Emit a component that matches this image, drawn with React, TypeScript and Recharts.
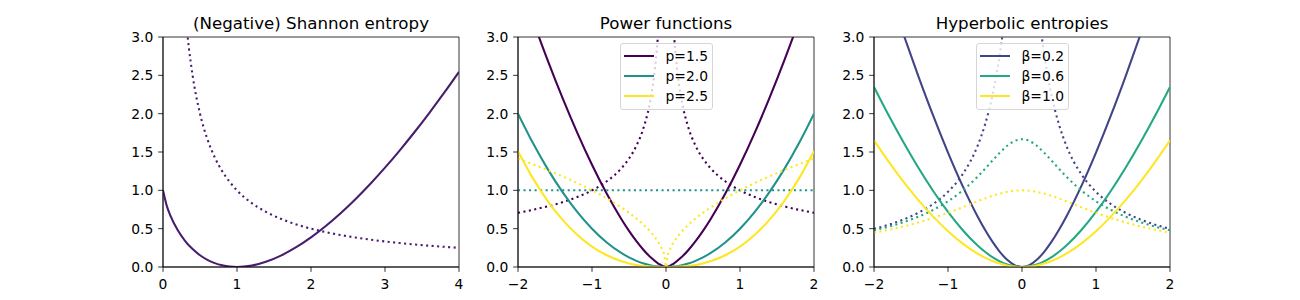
import React from 'react';
import { LineChart, Line, XAxis, YAxis, ReferenceArea, Legend } from 'recharts';

const FONT = '"DejaVu Sans", sans-serif';

// ---------- Panel 1: (Negative) Shannon entropy ----------
const shannonX = [0, 0.05, 0.1, 0.2, 0.3, 0.4, 0.5, 0.6, 0.7, 0.8, 0.9, 1.0, 1.2, 1.4, 1.6, 1.8, 2.0, 2.2, 2.4, 2.6, 2.8, 3.0, 3.2, 3.4, 3.6, 3.8, 4.0];
const shannonY = [1, 0.8002, 0.6697, 0.4781, 0.3388, 0.2335, 0.1534, 0.0935, 0.0503, 0.0215, 0.0052, 0, 0.0188, 0.0711, 0.152, 0.258, 0.3863, 0.5346, 0.7011, 0.8843, 1.0829, 1.2958, 1.5221, 1.7609, 2.0113, 2.2731, 2.5452];
const shannonD2X = [0.25, 0.3, 0.35, 0.4, 0.5, 0.6, 0.7, 0.8, 0.9, 1.0, 1.2, 1.4, 1.6, 1.8, 2.0, 2.2, 2.4, 2.6, 2.8, 3.0, 3.2, 3.4, 3.6, 3.8, 4.0];
const shannonD2Y = [4, 3.3333, 2.8571, 2.5, 2, 1.6667, 1.4286, 1.25, 1.1111, 1, 0.8333, 0.7143, 0.625, 0.5556, 0.5, 0.4545, 0.4167, 0.3846, 0.3571, 0.3333, 0.3125, 0.2941, 0.2778, 0.2632, 0.25];

// ---------- Shared x grid for panels 2 and 3 ----------
const gridX = [-2, -1.8, -1.6, -1.4, -1.2, -1, -0.8, -0.6, -0.5, -0.4, -0.3, -0.2, -0.1, 0, 0.1, 0.2, 0.3, 0.4, 0.5, 0.6, 0.8, 1, 1.2, 1.4, 1.6, 1.8, 2];

// ---------- Panel 2: Power functions ----------
const p15Y = [3.7712, 3.2199, 2.6985, 2.2087, 1.7527, 1.3333, 0.9541, 0.6197, 0.4714, 0.3373, 0.2191, 0.1193, 0.0422, 0, 0.0422, 0.1193, 0.2191, 0.3373, 0.4714, 0.6197, 0.9541, 1.3333, 1.7527, 2.2087, 2.6985, 3.2199, 3.7712];
const p15D2X = [-2, -1.8, -1.6, -1.4, -1.2, -1, -0.8, -0.6, -0.5, -0.4, -0.3, -0.2, -0.15, -0.1, -0.08, 0, 0.08, 0.1, 0.15, 0.2, 0.3, 0.4, 0.5, 0.6, 0.8, 1, 1.2, 1.4, 1.6, 1.8, 2];
const p15D2Y = [0.7071, 0.7454, 0.7906, 0.8452, 0.9129, 1, 1.118, 1.291, 1.4142, 1.5811, 1.8257, 2.2361, 2.582, 3.1623, 3.5355, null, 3.5355, 3.1623, 2.582, 2.2361, 1.8257, 1.5811, 1.4142, 1.291, 1.118, 1, 0.9129, 0.8452, 0.7906, 0.7454, 0.7071];
const p20Y = [2, 1.62, 1.28, 0.98, 0.72, 0.5, 0.32, 0.18, 0.125, 0.08, 0.045, 0.02, 0.005, 0, 0.005, 0.02, 0.045, 0.08, 0.125, 0.18, 0.32, 0.5, 0.72, 0.98, 1.28, 1.62, 2];
const p20D2Y = [1, 1, 1, 1, 1, 1, 1, 1, 1, 1, 1, 1, 1, 1, 1, 1, 1, 1, 1, 1, 1, 1, 1, 1, 1, 1, 1];
const p25Y = [1.5085, 1.1592, 0.8635, 0.6184, 0.4207, 0.2667, 0.1527, 0.0744, 0.0471, 0.027, 0.0131, 0.0048, 0.0008, 0, 0.0008, 0.0048, 0.0131, 0.027, 0.0471, 0.0744, 0.1527, 0.2667, 0.4207, 0.6184, 0.8635, 1.1592, 1.5085];
const p25D2X = [-2, -1.8, -1.6, -1.4, -1.2, -1, -0.8, -0.6, -0.5, -0.4, -0.3, -0.2, -0.1, -0.05, -0.02, 0, 0.02, 0.05, 0.1, 0.2, 0.3, 0.4, 0.5, 0.6, 0.8, 1, 1.2, 1.4, 1.6, 1.8, 2];
const p25D2Y = [1.4142, 1.3416, 1.2649, 1.1832, 1.0954, 1, 0.8944, 0.7746, 0.7071, 0.6325, 0.5477, 0.4472, 0.3162, 0.2236, 0.1414, 0, 0.1414, 0.2236, 0.3162, 0.4472, 0.5477, 0.6325, 0.7071, 0.7746, 0.8944, 1, 1.0954, 1.1832, 1.2649, 1.3416, 1.4142];

// ---------- Panel 3: Hyperbolic entropies ----------
const b02Y = [4.1864, 3.597, 3.03, 2.4875, 1.9736, 1.4926, 1.0511, 0.6586, 0.4851, 0.3302, 0.1979, 0.0934, 0.0245, 0, 0.0245, 0.0934, 0.1979, 0.3302, 0.4851, 0.6586, 1.0511, 1.4926, 1.9736, 2.4875, 3.03, 3.597, 4.1864];
const b02D2Y = [0.4975, 0.5522, 0.6202, 0.7071, 0.822, 0.9806, 1.2127, 1.5811, 1.857, 2.2361, 2.7735, 3.5355, 4.4721, 5, 4.4721, 3.5355, 2.7735, 2.2361, 1.857, 1.5811, 1.2127, 0.9806, 0.822, 0.7071, 0.6202, 0.5522, 0.4975];
const b06Y = [2.3497, 1.9758, 1.6231, 1.2937, 0.9907, 0.7176, 0.4789, 0.2803, 0.1982, 0.129, 0.0735, 0.033, 0.0083, 0, 0.0083, 0.033, 0.0735, 0.129, 0.1982, 0.2803, 0.4789, 0.7176, 0.9907, 1.2937, 1.6231, 1.9758, 2.3497];
const b06D2Y = [0.4789, 0.527, 0.5852, 0.6565, 0.7454, 0.8575, 1, 1.1785, 1.2804, 1.3868, 1.4907, 1.5811, 1.644, 1.6667, 1.644, 1.5811, 1.4907, 1.3868, 1.2804, 1.1785, 1, 0.8575, 0.7454, 0.6565, 0.5852, 0.527, 0.4789];
const b10Y = [1.6512, 1.3717, 1.1116, 0.8727, 0.6571, 0.4672, 0.3055, 0.1751, 0.1226, 0.079, 0.0447, 0.0199, 0.005, 0, 0.005, 0.0199, 0.0447, 0.079, 0.1226, 0.1751, 0.3055, 0.4672, 0.6571, 0.8727, 1.1116, 1.3717, 1.6512];
const b10D2Y = [0.4472, 0.4856, 0.53, 0.5812, 0.6402, 0.7071, 0.7809, 0.8575, 0.8944, 0.9285, 0.9578, 0.9806, 0.995, 1, 0.995, 0.9806, 0.9578, 0.9285, 0.8944, 0.8575, 0.7809, 0.7071, 0.6402, 0.5812, 0.53, 0.4856, 0.4472];

// ---------- Axis ticks / labels ----------
const yTicks = [0, 0.5, 1, 1.5, 2, 2.5, 3];
const xTicksShannon = [0, 1, 2, 3, 4];
const xTicksSym = [-2, -1, 0, 1, 2];
const titles = ['(Negative) Shannon entropy', 'Power functions', 'Hyperbolic entropies'];
const powerLabels = ['p=1.5', 'p=2.0', 'p=2.5'];
const betaLabels = ['β=0.2', 'β=0.6', 'β=1.0'];

const C_SHANNON = '#481c6e';
const POWER_COLORS = ['#440154', '#21918c', '#fde725'];
const BETA_COLORS = ['#414487', '#22a884', '#fde725'];

const zip = (xs: number[], ys: (number | null)[]) => xs.map((x, i) => ({ x, y: ys[i] }));

type S = { data: { x: number; y: number | null }[]; color: string; dotted: boolean; name?: string };

const PLOT_W = 296;
const YW = 50;
const PLOT_LEFTS = [163, 518, 874];
const DOT = '2.08 3.44';

const fmtY = (v: number) => v.toFixed(1);
const fmtX = (v: number) => (v < 0 ? '\u2212' + Math.abs(v) : String(v));

const tickStyle = { fill: '#000', fontSize: 13.89, fontFamily: FONT };

const LegendBox = (props: any) => {
  const items = (props.payload || []).filter((p: any) => p.type !== 'none');
  return (
    <div
      style={{
        position: 'relative',
        width: 93,
        height: 67,
        boxSizing: 'border-box',
        border: '1px solid #d6d6d6',
        borderRadius: 3,
        background: 'rgba(255,255,255,0.8)',
        fontFamily: FONT,
        fontSize: 13.89,
        color: '#000',
      }}
    >
      {items.map((it: any, i: number) => (
        <div key={i} style={{ position: 'absolute', left: 0, top: 1.7 + 20.2 * i, height: 20, width: 93 }}>
          <div style={{ position: 'absolute', left: 3, top: 9, width: 30, height: 2.1, background: it.color }} />
          <div style={{ position: 'absolute', left: 44.5, top: 0, lineHeight: '20px', whiteSpace: 'nowrap' }}>{it.value}</div>
        </div>
      ))}
    </div>
  );
};

function Panel({ idx, domain, ticks, series, legend }: { idx: number; domain: [number, number]; ticks: number[]; series: S[]; legend: boolean }) {
  return (
    <div style={{ position: 'absolute', left: PLOT_LEFTS[idx] - YW, top: 0 }}>
      <LineChart width={YW + PLOT_W + 5} height={300} margin={{ top: 37, right: 5, bottom: 3, left: 0 }}>
        <XAxis
          type="number"
          dataKey="x"
          domain={domain}
          ticks={ticks}
          interval={0}
          allowDataOverflow
          tickFormatter={fmtX}
          tick={tickStyle}
          tickLine={{ stroke: '#000', strokeWidth: 0.8 }}
          axisLine={{ stroke: '#000', strokeWidth: 0.8 }}
          tickSize={4.86}
          tickMargin={7.5}
          height={30}
        />
        <YAxis
          type="number"
          domain={[0, 3]}
          ticks={yTicks}
          interval={0}
          allowDataOverflow
          tickFormatter={fmtY}
          tick={tickStyle}
          tickLine={{ stroke: '#000', strokeWidth: 0.8 }}
          axisLine={{ stroke: '#000', strokeWidth: 0.8 }}
          tickSize={4.86}
          tickMargin={4.86}
          width={YW}
        />
        {series.map((s, i) => (
          <Line
            key={i}
            data={s.data}
            dataKey="y"
            name={s.name}
            type="monotone"
            stroke={s.color}
            strokeWidth={2.08}
            strokeDasharray={s.dotted ? DOT : undefined}
            dot={false}
            activeDot={false}
            connectNulls={false}
            legendType={s.dotted || !s.name ? 'none' : 'line'}
            isAnimationActive={false}
          />
        ))}
        <ReferenceArea x1={domain[0]} x2={domain[1]} y1={0} y2={3} fill="none" fillOpacity={0} stroke="#000" strokeWidth={0.8} />
        {legend && (
          <Legend
            layout="vertical"
            align="center"
            verticalAlign="middle"
            wrapperStyle={{ left: 152, top: 43, width: 93, height: 67 }}
            content={LegendBox}
          />
        )}
      </LineChart>
    </div>
  );
}

export default function App() {
  const shannon: S[] = [
    { data: zip(shannonX, shannonY), color: C_SHANNON, dotted: false },
    { data: zip(shannonD2X, shannonD2Y), color: C_SHANNON, dotted: true },
  ];
  const power: S[] = [
    { data: zip(gridX, p15Y), color: POWER_COLORS[0], dotted: false, name: powerLabels[0] },
    { data: zip(p15D2X, p15D2Y), color: POWER_COLORS[0], dotted: true },
    { data: zip(gridX, p20Y), color: POWER_COLORS[1], dotted: false, name: powerLabels[1] },
    { data: zip(gridX, p20D2Y), color: POWER_COLORS[1], dotted: true },
    { data: zip(gridX, p25Y), color: POWER_COLORS[2], dotted: false, name: powerLabels[2] },
    { data: zip(p25D2X, p25D2Y), color: POWER_COLORS[2], dotted: true },
  ];
  const hyper: S[] = [
    { data: zip(gridX, b02Y), color: BETA_COLORS[0], dotted: false, name: betaLabels[0] },
    { data: zip(gridX, b02D2Y), color: BETA_COLORS[0], dotted: true },
    { data: zip(gridX, b06Y), color: BETA_COLORS[1], dotted: false, name: betaLabels[1] },
    { data: zip(gridX, b06D2Y), color: BETA_COLORS[1], dotted: true },
    { data: zip(gridX, b10Y), color: BETA_COLORS[2], dotted: false, name: betaLabels[2] },
    { data: zip(gridX, b10D2Y), color: BETA_COLORS[2], dotted: true },
  ];
  return (
    <div style={{ position: 'absolute', left: 0, top: 0, width: 1300, height: 300, background: '#fff', overflow: 'hidden' }}>
      <svg width={1300} height={300} style={{ position: 'absolute', left: 0, top: 0 }}>
        {titles.map((t, i) => (
          <text key={i} x={PLOT_LEFTS[i] + PLOT_W / 2} y={29} textAnchor="middle" fontFamily={FONT} fontSize={16.67} fill="#000">
            {t}
          </text>
        ))}
      </svg>
      <Panel idx={0} domain={[0, 4]} ticks={xTicksShannon} series={shannon} legend={false} />
      <Panel idx={1} domain={[-2, 2]} ticks={xTicksSym} series={power} legend={true} />
      <Panel idx={2} domain={[-2, 2]} ticks={xTicksSym} series={hyper} legend={true} />
    </div>
  );
}
